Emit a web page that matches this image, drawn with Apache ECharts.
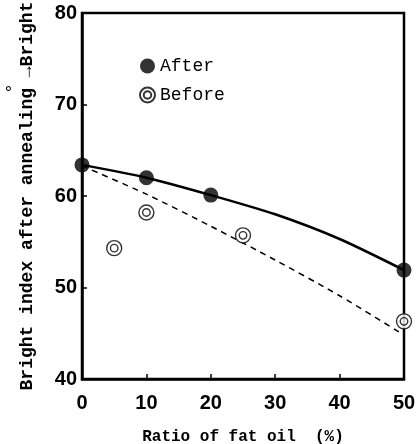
<!DOCTYPE html>
<html>
<head>
<meta charset="utf-8">
<script src="https://cdn.jsdelivr.net/npm/echarts@6/dist/echarts.min.js"></script>
<style>
  html, body { margin: 0; padding: 0; background: #fff; }
  #chart { width: 420px; height: 444px; }
</style>
</head>
<body>
<div id="chart"></div>
<script>
// measured points
var afterX = [0, 10, 20, 50];
var afterY = [63.4, 62.0, 60.1, 51.9];
var beforeX = [5, 10, 25, 50];
var beforeY = [54.3, 58.2, 55.7, 46.3];
// drawn trend curves
var curveX = [0, 10, 20, 30, 40, 50];
var afterCurve = [63.4, 62.0, 60.1, 58.0, 55.3, 51.9];
var beforeCurve = [63.3, 60.2, 56.7, 53.0, 49.1, 44.8];

function pairs(xs, ys) {
	var d = [];
	for (var i = 0; i < xs.length; i++) {
		d.push([xs[i], ys[i]]);
	}
	return d;
}

var ringPath = 'path://M0,10A10,10 0 1,0 20,10A10,10 0 1,0 0,10Z M5,10A5,5 0 1,0 15,10A5,5 0 1,0 5,10Z';
var mono = 'Liberation Mono';

var chart = echarts.init(document.getElementById('chart'));
var option = {
	animation: false,
	grid: {
		left: 82,
		right: 16,
		top: 13,
		bottom: 65,
		outerBoundsMode: 'none',
		show: true,
		borderColor: '#000',
		borderWidth: 2.5
	},
	legend: {
		orient: 'vertical',
		left: 139,
		top: 57,
		padding: 0,
		itemGap: 11,
		itemWidth: 15,
		itemHeight: 15,
		textStyle: {
			fontFamily: mono,
			fontSize: 18,
			color: '#000'
		},
		data: [{
			name: 'After',
			icon: 'circle'
		}, {
			name: 'Before',
			icon: ringPath
		}]
	},
	xAxis: {
		type: 'value',
		min: 0,
		max: 50,
		interval: 10,
		name: 'Ratio of fat oil  (%)',
		nameLocation: 'middle',
		nameGap: 50,
		nameTextStyle: {
			fontFamily: mono,
			fontWeight: 'bold',
			fontSize: 16,
			color: '#000'
		},
		splitLine: { show: false },
		axisLine: { lineStyle: { color: '#000', width: 2.5 } },
		axisTick: { inside: true, length: 5, lineStyle: { color: '#000', width: 1.5 } },
		axisLabel: {
			margin: 14,
			fontFamily: 'Liberation Sans',
			fontWeight: 'bold',
			fontSize: 20,
			color: '#000'
		}
	},
	yAxis: {
		type: 'value',
		min: 40,
		max: 80,
		interval: 10,
		name: 'Bright index after annealing \u2192Bright',
		nameLocation: 'middle',
		nameRotate: 90,
		nameGap: 46,
		nameTextStyle: {
			fontFamily: mono,
			fontWeight: 'bold',
			fontSize: 18,
			color: '#000'
		},
		splitLine: { show: false },
		axisLine: { lineStyle: { color: '#000', width: 2.5 } },
		axisTick: { inside: true, length: 5, lineStyle: { color: '#000', width: 1.5 } },
		axisLabel: {
			margin: 5,
			fontFamily: 'Liberation Sans',
			fontWeight: 'bold',
			fontSize: 20,
			color: '#000'
		}
	},
	graphic: [{
		type: 'text',
		left: 3,
		top: 84,
		style: {
			text: '\u00b0',
			fontFamily: mono,
			fontSize: 18,
			fill: '#000'
		}
	}],
	series: [{
		name: 'After curve',
		type: 'line',
		smooth: 0.25,
		showSymbol: false,
		data: pairs(curveX, afterCurve),
		lineStyle: { color: '#000', width: 2.5 },
		z: 2
	}, {
		name: 'Before curve',
		type: 'line',
		smooth: 0.25,
		showSymbol: false,
		data: pairs(curveX, beforeCurve),
		lineStyle: { color: '#000', width: 1.5, type: [6, 5] },
		z: 2
	}, {
		name: 'After',
		type: 'scatter',
		symbol: 'circle',
		symbolSize: 15,
		clip: false,
		data: pairs(afterX, afterY),
		itemStyle: { color: '#000' },
		z: 3
	}, {
		name: 'Before',
		type: 'scatter',
		symbol: ringPath,
		symbolSize: 15,
		clip: false,
		data: pairs(beforeX, beforeY),
		itemStyle: { color: '#fff', borderColor: '#000', borderWidth: 1.4 },
		z: 3
	}]
};
chart.setOption(option);
</script>
</body>
</html>
